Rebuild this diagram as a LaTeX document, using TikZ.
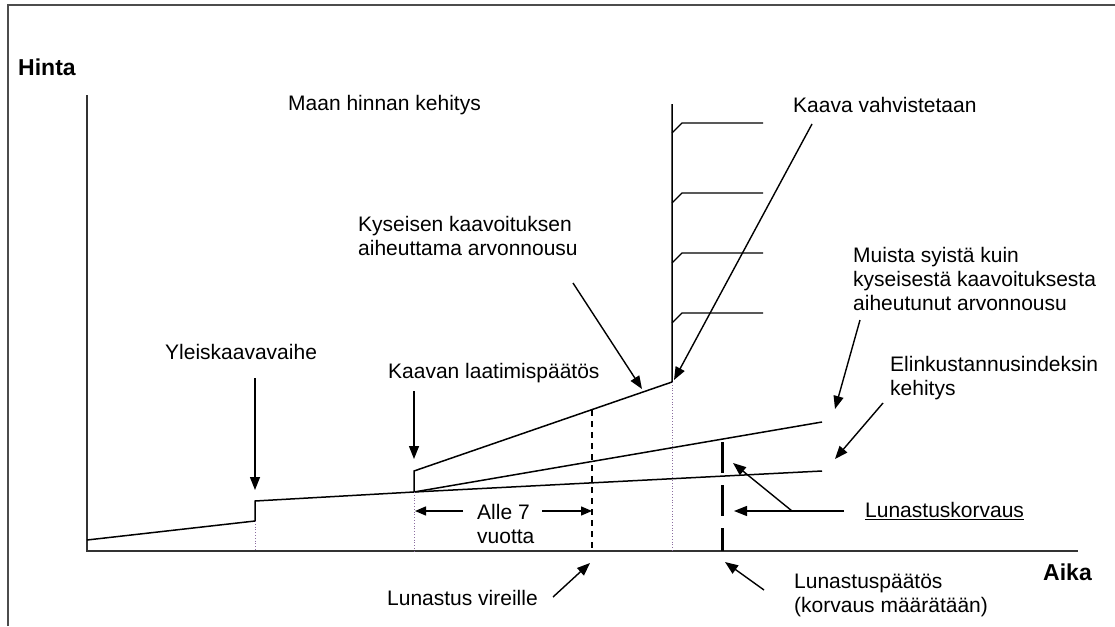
\documentclass[tikz,border=0pt]{standalone}
\usepackage{fontspec}
\setmainfont{Liberation Sans}
\usetikzlibrary{arrows.meta}
\begin{document}
\begin{tikzpicture}[x=1pt,y=-1pt,
  lbl/.style={inner sep=0pt, font=\fontsize{21}{24}\selectfont, align=left, anchor=west},
  axlbl/.style={inner sep=0pt, font=\fontsize{23}{27}\selectfont\bfseries, anchor=west},
  curve/.style={line width=1.5pt, line join=miter},
  arr/.style={line width=1.4pt, -{Triangle[length=13pt,width=10pt]}},
  sarr/.style={line width=1.4pt, -{Triangle[length=11pt,width=9pt]}},
  guide/.style={line width=0.8pt, dotted, color={rgb,255:red,140;green,110;blue,160}},
  axis/.style={line width=2pt, color=black!80},
]
\useasboundingbox (0,0) rectangle (1115,626);
\draw[line width=2pt, color=black!70] (8,626) -- (8,5) -- (1115,5);

% axes
\coordinate (o) at (87,551);
\coordinate (ytop) at (87,95);
\coordinate (xend) at (1078,551);
\draw[axis] (ytop) -- (o) -- (xend);

% price curve
\coordinate (p0) at (87,540);
\coordinate (p1) at (255,521);
\coordinate (p2) at (255,501);
\coordinate (p3) at (414,492);
\coordinate (p4) at (414,471);
\coordinate (p5) at (672,382);
\coordinate (p6) at (672,104);
\coordinate (m) at (822,422);
\coordinate (b) at (822,471);
\draw[curve] (p0) -- (p1) -- (p2) -- (p3) -- (p4) -- (p5) -- (p6);
\draw[curve] (p3) -- (m);
\draw[curve] (p3) -- (b);

% hatch
\foreach \y in {123,193,253,313}{
  \draw[line width=1.3pt] (672,\y+10) -- (682,\y) -- (763,\y);
}

% guides
\coordinate (g1) at (255,551);
\coordinate (g2) at (414,551);
\coordinate (g3) at (672,551);
\draw[guide] (p1) -- (g1);
\draw[guide] (p3) -- (g2);
\draw[guide] (p5) -- (g3);

% dashed verticals
\coordinate (d1t) at (592,410);
\coordinate (d1b) at (592,551);
\draw[line width=1.3pt, dash pattern=on 6pt off 5pt] (d1t) -- (d1b);
\coordinate (d2t) at (722,442);
\coordinate (d2b) at (722,551);
\draw[line width=3pt, dash pattern=on 31pt off 12pt] (d2t) -- (d2b);

% labels
\node[axlbl] (hinta) at (18,67) {Hinta};
\node[axlbl] (aika) at (1043,572) {Aika};
\node[lbl] (maan) at (288,105) {Maan hinnan kehitys};
\node[lbl] (vahv) at (793,105) {Kaava vahvistetaan};
\node[lbl] (kys) at (358,236) {Kyseisen kaavoituksen\\aiheuttama arvonnousu};
\node[lbl] (laat) at (388,373) {Kaavan laatimispäätös};
\node[lbl] (yleis) at (165,352) {Yleiskaavavaihe};
\node[lbl] (muista) at (853,279) {Muista syistä kuin\\kyseisestä kaavoituksesta\\aiheutunut arvonnousu};
\node[lbl] (elin) at (890,378) {Elinkustannusindeksin\\kehitys};
\node[lbl] (alle) at (477,524) {Alle 7\\vuotta};
\node[lbl] (korv) at (865,511) {\underline{Lunastuskorvaus}};
\node[lbl] (vir) at (387,598) {Lunastus vireille};
\node[lbl] (paat) at (794,595) {Lunastuspäätös\\(korvaus määrätään)};

% arrows
\coordinate (a1s) at (255,378); \coordinate (a1e) at (255,490);
\draw[arr] (a1s) -- (a1e);
\coordinate (a2s) at (414,391); \coordinate (a2e) at (414,459);
\draw[arr] (a2s) -- (a2e);
\coordinate (a3s) at (573,283); \coordinate (a3e) at (642,389);
\draw[arr] (a3s) -- (a3e);
\coordinate (a4s) at (812,124); \coordinate (a4e) at (674,380);
\draw[arr] (a4s) -- (a4e);
\coordinate (a5s) at (860,320); \coordinate (a5e) at (835,409);
\draw[arr] (a5s) -- (a5e);
\coordinate (a6s) at (883,403); \coordinate (a6e) at (835,459);
\draw[arr] (a6s) -- (a6e);
\coordinate (a7s) at (844,511); \coordinate (a7e) at (734,511);
\draw[arr] (a7s) -- (a7e);
\coordinate (a8s) at (792,511); \coordinate (a8e) at (733,463);
\draw[arr] (a8s) -- (a8e);
\coordinate (a9s) at (764,590); \coordinate (a9e) at (725,562);
\draw[arr] (a9s) -- (a9e);
\coordinate (a10s) at (553,597); \coordinate (a10e) at (590,563);
\draw[arr] (a10s) -- (a10e);
\coordinate (a11s) at (463,511); \coordinate (a11e) at (415,511);
\draw[sarr] (a11s) -- (a11e);
\coordinate (a12s) at (542,511); \coordinate (a12e) at (592,511);
\draw[sarr] (a12s) -- (a12e);
\end{tikzpicture}
\end{document}
